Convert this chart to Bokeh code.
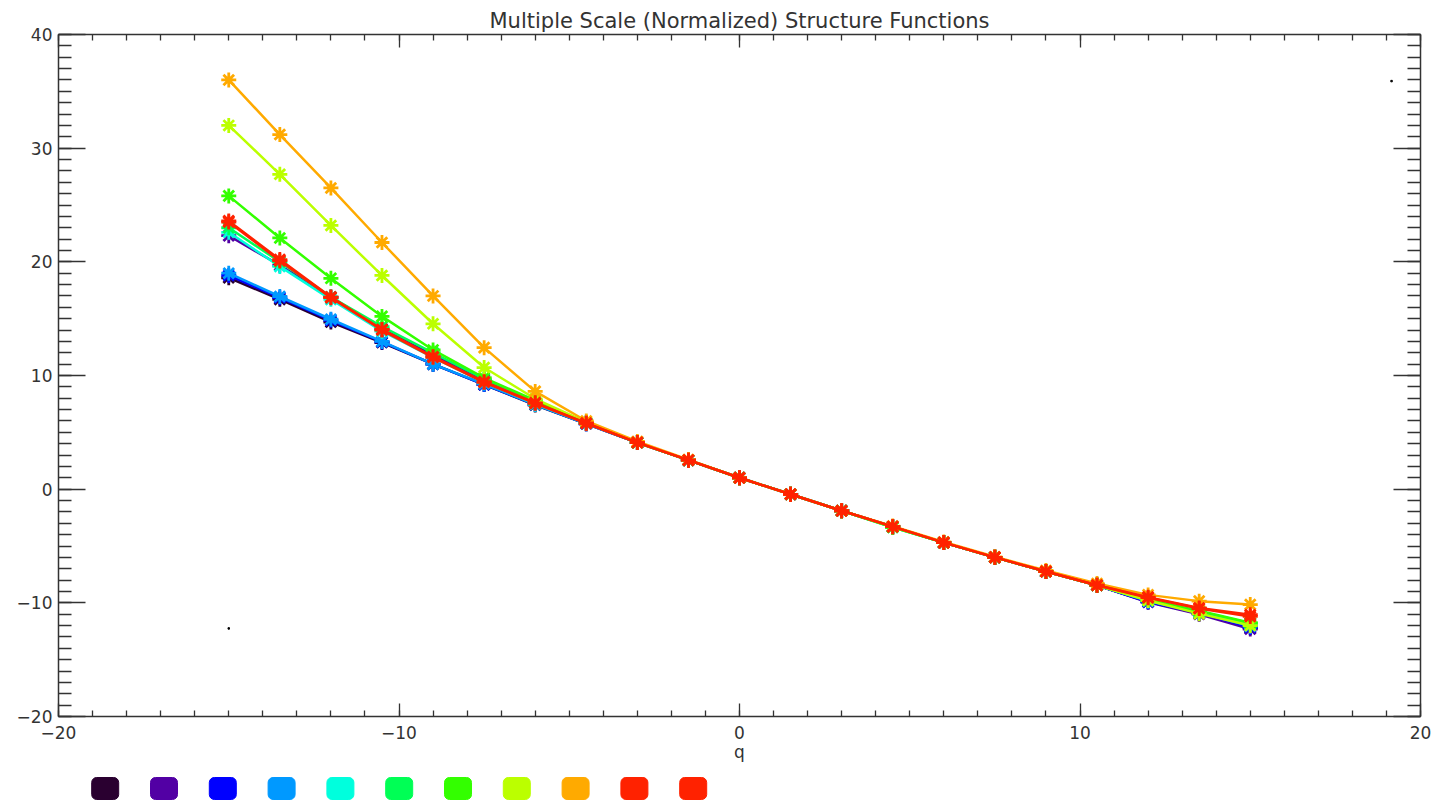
from bokeh.plotting import figure
from bokeh.models import Range1d, SingleIntervalTicker, LinearAxis, CustomJSTickFormatter
from bokeh.layouts import column
from bokeh.embed import file_html
from bokeh.resources import INLINE

# ---------------- data ----------------
q = [-15.0, -13.5, -12.0, -10.5, -9.0, -7.5, -6.0, -4.5, -3.0, -1.5, 0.0,
     1.5, 3.0, 4.5, 6.0, 7.5, 9.0, 10.5, 12.0, 13.5, 15.0]

s01_dark      = [18.6, 16.7, 14.7, 12.9, 11.0, 9.2, 7.4, 5.75, 4.1, 2.55, 1.0, -0.45, -1.9, -3.3, -4.7, -6.0, -7.25, -8.45, -9.9, -10.95, -12.2]
s02_purple    = [22.3, 19.7, 16.9, 14.1, 11.8, 9.6, 7.6, 5.8, 4.1, 2.55, 1.0, -0.45, -1.9, -3.3, -4.7, -6.0, -7.25, -8.45, -9.95, -11.0, -12.3]
s03_blue      = [18.8, 16.85, 14.85, 12.95, 11.0, 9.2, 7.45, 5.75, 4.1, 2.55, 1.0, -0.45, -1.9, -3.3, -4.7, -6.0, -7.25, -8.45, -9.9, -10.9, -12.15]
s04_lightblue = [19.0, 16.95, 14.95, 13.0, 11.0, 9.25, 7.45, 5.75, 4.1, 2.55, 1.0, -0.45, -1.9, -3.3, -4.7, -6.0, -7.25, -8.45, -9.85, -10.85, -12.05]
s05_cyan      = [22.6, 19.6, 16.7, 13.9, 11.6, 9.4, 7.5, 5.8, 4.1, 2.55, 1.0, -0.45, -1.9, -3.35, -4.7, -6.0, -7.25, -8.45, -9.8, -10.8, -11.9]
s06_spring    = [23.0, 20.0, 16.9, 14.3, 12.0, 9.7, 7.7, 5.85, 4.1, 2.55, 1.0, -0.45, -1.9, -3.35, -4.7, -6.0, -7.25, -8.45, -9.75, -10.75, -11.8]
s07_green     = [25.8, 22.1, 18.55, 15.2, 12.25, 9.8, 7.8, 5.85, 4.1, 2.55, 1.0, -0.45, -1.9, -3.35, -4.7, -6.0, -7.25, -8.45, -9.75, -10.7, -11.75]
s08_yellow    = [32.0, 27.7, 23.2, 18.8, 14.55, 10.7, 7.95, 5.9, 4.1, 2.55, 1.0, -0.45, -1.9, -3.3, -4.7, -6.0, -7.25, -8.45, -9.8, -10.95, -12.0]
s09_orange    = [36.0, 31.2, 26.5, 21.7, 17.0, 12.45, 8.6, 6.0, 4.2, 2.6, 1.0, -0.45, -1.9, -3.25, -4.65, -5.95, -7.15, -8.3, -9.3, -9.85, -10.15]
s10_red       = [23.6, 20.2, 16.9, 14.05, 11.65, 9.45, 7.6, 5.8, 4.1, 2.55, 1.0, -0.45, -1.9, -3.3, -4.7, -6.0, -7.25, -8.45, -9.5, -10.45, -11.05]
s11_red       = [23.5, 20.1, 16.85, 14.0, 11.6, 9.4, 7.55, 5.8, 4.1, 2.55, 1.0, -0.45, -1.9, -3.3, -4.7, -6.0, -7.25, -8.45, -9.55, -10.5, -11.2]

series = [s01_dark, s02_purple, s03_blue, s04_lightblue, s05_cyan, s06_spring,
          s07_green, s08_yellow, s09_orange, s10_red, s11_red]
colors = ["#2a0030", "#5200a4", "#0000ff", "#0099ff", "#00ffdd", "#00ff55",
          "#33ff00", "#bbff00", "#ffaa00", "#ff2200", "#ff2200"]

# two stray single points (psym=3 dots) visible in the original
dot_x = [19.15, -15.0]
dot_y = [35.9, -12.25]

x_ticks = [-20, -10, 0, 10, 20]
x_tick_labels = ["\u221220", "\u221210", "0", "10", "20"]
y_ticks = [-20, -10, 0, 10, 20, 30, 40]
y_tick_labels = ["\u221220", "\u221210", "0", "10", "20", "30", "40"]

title_text = "Multiple Scale (Normalized) Structure Functions"
x_label = "q"

# ---------------- styling ----------------
FONT = "DejaVu Sans"
INK = "#333333"

p = figure(width=1432, height=765, output_backend="svg", toolbar_location=None,
           x_range=Range1d(-20, 20), y_range=Range1d(-20, 40),
           frame_width=1362, frame_height=682,
           min_border_left=58, min_border_right=12, min_border_top=34, min_border_bottom=40)
p.background_fill_color = "white"
p.border_fill_color = "white"
p.outline_line_color = None
p.grid.visible = False

p.title.text = title_text
p.title.align = "center"
p.title.text_font = FONT
p.title.text_font_size = "21px"
p.title.text_font_style = "normal"
p.title.text_color = INK
p.title.standoff = 3


def style_axis(ax, major_in, minor_in):
    ax.axis_line_color = INK
    ax.axis_line_width = 1.5
    ax.major_tick_in = major_in
    ax.major_tick_out = 0
    ax.minor_tick_in = minor_in
    ax.minor_tick_out = 0
    ax.major_tick_line_color = INK
    ax.minor_tick_line_color = INK
    ax.major_tick_line_width = 1.3
    ax.minor_tick_line_width = 1.3
    ax.major_label_text_font = FONT
    ax.major_label_text_font_size = "17px"
    ax.major_label_text_color = INK


xt = SingleIntervalTicker(interval=10, num_minor_ticks=10)
yt = SingleIntervalTicker(interval=10, num_minor_ticks=10)

p.xaxis.ticker = xt
p.yaxis.ticker = yt
style_axis(p.xaxis[0], 13, 6)
style_axis(p.yaxis[0], 27, 13)
p.xaxis.major_label_overrides = dict(zip(x_ticks, x_tick_labels))
p.yaxis.major_label_overrides = dict(zip(y_ticks, y_tick_labels))
p.xaxis.major_label_standoff = 9
p.yaxis.major_label_standoff = 6
p.xaxis.axis_label = x_label
p.xaxis.axis_label_text_font = FONT
p.xaxis.axis_label_text_font_size = "17px"
p.xaxis.axis_label_text_font_style = "normal"
p.xaxis.axis_label_text_color = INK
p.xaxis.axis_label_standoff = 0

blank = CustomJSTickFormatter(code="return ''")
top_ax = LinearAxis(ticker=SingleIntervalTicker(interval=10, num_minor_ticks=10), formatter=blank)
right_ax = LinearAxis(ticker=SingleIntervalTicker(interval=10, num_minor_ticks=10), formatter=blank)
style_axis(top_ax, 13, 6)
style_axis(right_ax, 27, 13)
top_ax.major_label_standoff = 0
right_ax.major_label_standoff = 0
top_ax.major_label_text_font_size = "1px"
right_ax.major_label_text_font_size = "1px"
p.add_layout(top_ax, "above")
p.add_layout(right_ax, "right")

p.scatter(dot_x, dot_y, size=1.5, color="black", marker="square")

for ys, c in zip(series, colors):
    p.line(q, ys, line_color=c, line_width=2.5)
    p.scatter(q, ys, marker="asterisk", size=15, line_color=c, line_width=2.8)

# ---------------- colour key strip ----------------
# the column layout aligns this strip's frame with the main frame (page px 58..1420),
# so the x range is expressed in page pixels
leg_h = 39
key = figure(width=1432, height=leg_h, output_backend="svg", toolbar_location=None,
             x_range=Range1d(58, 1420), y_range=Range1d(0, leg_h),
             x_axis_location=None, y_axis_location=None,
             frame_width=1362, frame_height=leg_h,
             min_border_left=58, min_border_right=12, min_border_top=0, min_border_bottom=0)
key.outline_line_color = None
key.grid.visible = False
key.background_fill_color = "white"
key.border_fill_color = "white"

idx = list(range(len(colors)))
cx = [104.7 + 58.8 * i for i in idx]
key.quad(left=[x - 13.5 for x in cx], right=[x + 13.5 for x in cx],
         bottom=[4] * len(cx), top=[26] * len(cx),
         fill_color=colors, line_color=colors, border_radius=5)

layout = column(p, key, spacing=0)
open("out.html", "w").write(file_html(layout, INLINE))
